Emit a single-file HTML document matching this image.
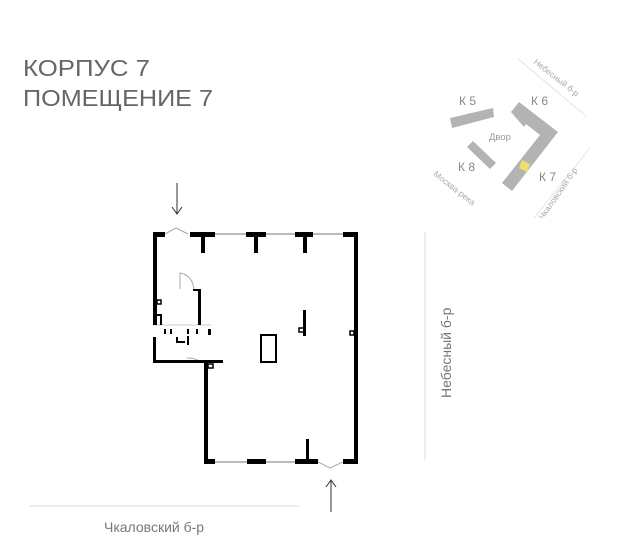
<!DOCTYPE html>
<html><head><meta charset="utf-8"><style>
html,body{margin:0;padding:0;background:#fff;}
svg{display:block;font-family:"Liberation Sans",sans-serif;}
</style></head><body>
<svg width="617" height="553" viewBox="0 0 617 553" xmlns="http://www.w3.org/2000/svg">
<text x="23" y="76" font-size="23" fill="#666" textLength="127" lengthAdjust="spacingAndGlyphs">КОРПУС 7</text>
<text x="23" y="106" font-size="23" fill="#666" textLength="190" lengthAdjust="spacingAndGlyphs">ПОМЕЩЕНИЕ 7</text>

<!-- mini map -->
<g fill="#b3b3b3">
<polygon points="450,118 493,108 494,117 452,128"/>
<polygon points="467,147 473,141 496,163 490,169"/>
<polygon points="519,102 558,132 512,191 502,183 540,135 526,124 524,127 511,112"/>
</g>
<polygon points="522,160 530,164 527,172 519,168" fill="#e8e070"/>
<g fill="#888" font-size="12">
<text x="459" y="105">К 5</text>
<text x="531" y="105">К 6</text>
<text x="458" y="171">К 8</text>
<text x="539" y="181">К 7</text>
<text x="489" y="140" font-size="9.5" fill="#999">Двор</text>
</g>
<g stroke="#e3e3e3" stroke-width="1">
<line x1="517" y1="58" x2="587" y2="117"/>
<line x1="590" y1="148" x2="534" y2="218"/>
</g>
<g fill="#aaa" font-size="8.5">
<text transform="translate(533,63) rotate(38)">Небесный б-р</text>
<text transform="translate(433,175) rotate(38)">Москва-река</text>
<text transform="translate(543,220) rotate(-55)">Чкаловский б-р</text>
</g>

<!-- arrows -->
<g stroke="#333" stroke-width="1" fill="none">
<line x1="177" y1="183" x2="177" y2="214"/>
<polyline points="172,207 177,214 182,207"/>
<line x1="331" y1="480" x2="331" y2="512"/>
<polyline points="326,487 331,480 336,487"/>
</g>
<line x1="425" y1="232" x2="425" y2="460" stroke="#ddd"/>
<line x1="30" y1="506" x2="300" y2="506" stroke="#ddd"/>
<text transform="translate(451,398) rotate(-90)" font-size="14" fill="#777">Небесный б-р</text>
<text x="104" y="532" font-size="14" fill="#777">Чкаловский б-р</text>

<!-- floor plan -->
<g stroke="#bbb" stroke-width="2">
<line x1="215" y1="234" x2="246" y2="234"/>
<line x1="266" y1="234" x2="295" y2="234"/>
<line x1="313" y1="234" x2="343" y2="234"/>
<line x1="215" y1="462" x2="247" y2="462"/>
<line x1="266" y1="462" x2="295" y2="462"/>
</g>
<g stroke="#aaa" stroke-width="1" fill="none">
<path d="M165,234 L176,228 L188,234"/>
<path d="M318,462 L330,468 L343,462"/>
<path d="M180,289 L180,273 Q192,275 194,289"/>
<path d="M187,358 Q197,358 199,362"/>
<line x1="153" y1="325" x2="211" y2="325" stroke="#ccc"/>
</g>
<g fill="#000">
<rect x="153" y="232" width="12" height="5"/>
<rect x="153" y="232" width="4" height="93"/>
<rect x="190" y="232" width="25" height="5"/><rect x="201" y="232" width="4" height="21"/>
<rect x="246" y="232" width="20" height="5"/><rect x="254" y="232" width="4" height="21"/>
<rect x="295" y="232" width="18" height="5"/><rect x="303" y="232" width="4" height="21"/>
<rect x="343" y="232" width="15" height="5"/>
<rect x="354" y="232" width="4" height="231"/>
<rect x="204" y="459" width="11" height="5"/>
<rect x="247" y="459" width="19" height="5"/>
<rect x="295" y="459" width="23" height="5"/>
<rect x="343" y="459" width="15" height="5"/>
<rect x="306" y="439" width="3" height="22"/>
<rect x="204" y="362" width="4" height="102"/>
<rect x="153" y="360" width="70" height="3"/>
<rect x="153" y="337" width="3" height="25"/>
<rect x="198" y="289" width="3" height="36"/>
<rect x="193" y="289" width="7" height="2"/>
<rect x="303" y="310" width="3" height="26"/>
<rect x="164" y="329" width="2" height="5"/><rect x="170" y="329" width="2" height="5"/>
<rect x="187" y="329" width="2" height="5"/><rect x="196" y="329" width="2" height="5"/>
<rect x="208" y="329" width="3" height="6"/>
<rect x="176" y="337" width="2" height="6"/><rect x="176" y="341" width="9" height="2"/><rect x="187" y="336" width="2" height="9"/>
<rect x="157" y="314" width="5" height="2"/><rect x="160" y="314" width="2" height="11"/>
</g>
<g fill="none" stroke="#000" stroke-width="2">
<rect x="261" y="335" width="15" height="27"/>
<rect x="157" y="300" width="4" height="4" stroke-width="1.5"/>
<rect x="299" y="328" width="5" height="4" stroke-width="1.5"/>
<rect x="350" y="331" width="4" height="4" stroke-width="1.5"/>
<rect x="208" y="364" width="5" height="4" stroke-width="1.5"/>
</g>
</svg>
</body></html>
